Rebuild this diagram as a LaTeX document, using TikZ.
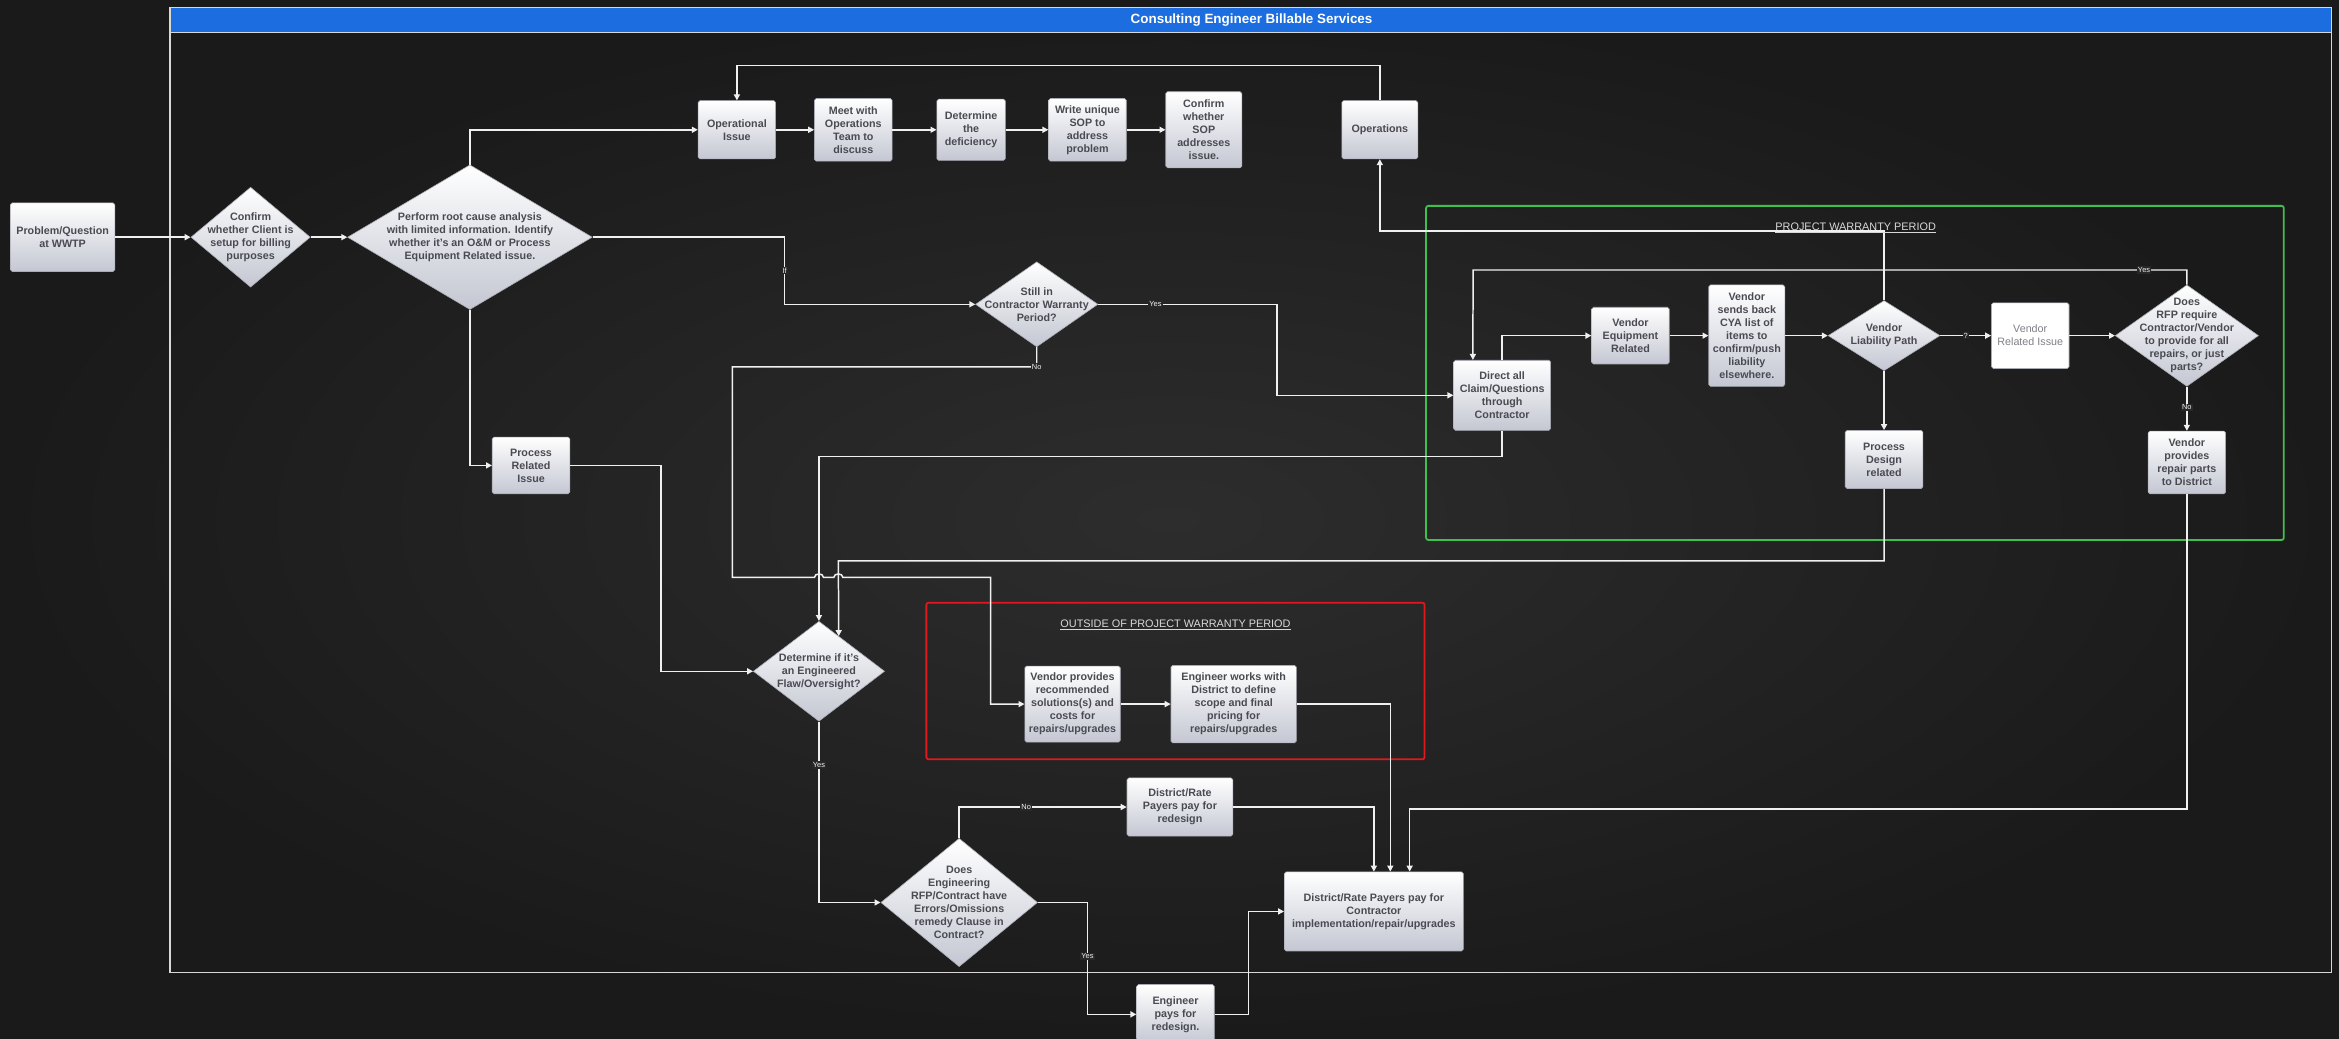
\documentclass[tikz,border=0pt]{standalone}
\usepackage{fontspec}
\setmainfont{Liberation Sans}
\usetikzlibrary{arrows.meta, positioning, calc, shapes.geometric}
\definecolor{bgcol}{HTML}{272727}
\definecolor{bgmid}{HTML}{2D2D2D}
\definecolor{bgdark}{HTML}{1A1A1A}
\definecolor{txtcol}{HTML}{4A4A52}
\definecolor{boxbot}{HTML}{C4C7D2}
\definecolor{boxline}{HTML}{A9ABB4}
\definecolor{wire}{HTML}{F0F0F0}
\definecolor{barblue}{HTML}{1C6EE0}
\definecolor{wgreen}{HTML}{3FBF4C}
\definecolor{wred}{HTML}{E0191E}

\begin{document}
\begin{tikzpicture}[
x=1pt, y=-1pt,
>={Triangle[length=4pt,width=4pt]},
box/.style={rectangle, rounded corners=1.2pt, draw=boxline, line width=0.4pt,
  top color=white, bottom color=boxbot, text=txtcol, align=center, inner sep=0.5pt,
  font=\bfseries\fontsize{7.2}{8.7}\selectfont},
plainbox/.style={box, top color=white, bottom color=white, text=txtcol!70!white,
  font=\fontsize{7.2}{8.7}\selectfont},
dia/.style={diamond, draw=boxline, line width=0.4pt, top color=white, bottom color=boxbot, inner sep=0pt},
dtext/.style={text=txtcol, align=center, inner sep=0pt, font=\bfseries\fontsize{7.2}{8.7}\selectfont},
conn/.style={draw=wire, line width=1pt, ->},
lbl/.style={fill=bgcol, text=wire, inner sep=0.7pt, font=\fontsize{5}{5}\selectfont},
grp/.style={text=wire!90!black, font=\fontsize{7.3}{8}\selectfont},
]
\useasboundingbox (0,0) rectangle (1568,696);
%% frame
\shade[inner color=bgmid, outer color=bgdark] (0,0) rectangle (1568,696);
\fill[barblue] (114,5) rectangle (1563,22);
\draw[wire!90!black, line width=1pt] (114,5) rectangle (1563,652);
\draw[wire!90!black, line width=0.6pt] (114,22) -- (1563,22);
\node[text=white, font=\bfseries\fontsize{9}{10}\selectfont] (title) at (839,13.5) {Consulting Engineer Billable Services};
\draw[wgreen, line width=1.2pt, rounded corners=1.5pt] (956,138) rectangle (1531,362);
\draw[wred, line width=1.2pt, rounded corners=1.5pt] (621,404) rectangle (955,509);

% nodes
\node[box, minimum width=70pt, minimum height=46pt] (prob) at (42,159) {Problem/Question\\at WWTP};
\node[dia, minimum width=80pt, minimum height=67pt,
  label={[dtext]center:{Confirm\\whether Client is\\setup for billing\\purposes}}] (confirm) at (168,159) {};
\node[dia, minimum width=164pt, minimum height=97pt,
  label={[dtext]center:{Perform root cause analysis\\with limited information. Identify\\whether it's an O\&M or Process\\Equipment Related issue.}}] (root) at (315,159) {};
\node[box, minimum width=52pt, minimum height=39pt] (opiss) at (494,87) {Operational\\Issue};
\node[box, minimum width=52pt, minimum height=42pt] (meet) at (572,87) {Meet with\\Operations\\Team to\\discuss};
\node[box, minimum width=46pt, minimum height=41pt] (deter) at (651,87) {Determine\\the\\deficiency};
\node[box, minimum width=52pt, minimum height=42pt] (sop) at (729,87) {Write unique\\SOP to\\address\\problem};
\node[box, minimum width=51pt, minimum height=51pt] (csop) at (807,87) {Confirm\\whether\\SOP\\addresses\\issue.};
\node[box, minimum width=51pt, minimum height=39pt] (ops) at (925,87) {Operations};
\node[dia, minimum width=82pt, minimum height=57pt,
  label={[dtext]center:{Still in\\Contractor Warranty\\Period?}}] (still) at (695,204) {};
\node[box, minimum width=52pt, minimum height=38pt] (prel) at (356,312) {Process\\Related\\Issue};
\node[dia, minimum width=88pt, minimum height=67pt,
  label={[dtext]center:{Determine if it's\\an Engineered\\Flaw/Oversight?}}] (flaw) at (549,450) {};
\node[box, minimum width=64pt, minimum height=51pt] (vprov) at (719,472) {Vendor provides\\recommended\\solutions(s) and\\costs for\\repairs/upgrades};
\node[box, minimum width=84pt, minimum height=52pt] (engw) at (827,472) {Engineer works with\\District to define\\scope and final\\pricing for\\repairs/upgrades};
\node[box, minimum width=71pt, minimum height=39pt] (redes) at (791,541) {District/Rate\\Payers pay for\\redesign};
\node[dia, minimum width=105pt, minimum height=86pt,
  label={[dtext]center:{Does\\Engineering\\RFP/Contract have\\Errors/Omissions\\remedy Clause in\\Contract?}}] (doeng) at (643,605) {};
\node[box, minimum width=52pt, minimum height=40pt] (engpay) at (788,680) {Engineer\\pays for\\redesign.};
\node[box, minimum width=120pt, minimum height=53pt] (dpay) at (921,611) {District/Rate Payers pay for\\Contractor\\implementation/repair/upgrades};
\node[box, minimum width=65pt, minimum height=47pt] (direct) at (1007,265) {Direct all\\Claim/Questions\\through\\Contractor};
\node[box, minimum width=52pt, minimum height=38pt] (vequip) at (1093,225) {Vendor\\Equipment\\Related};
\node[box, minimum width=51pt, minimum height=68pt] (cya) at (1171,225) {Vendor\\sends back\\CYA list of\\items to\\confirm/push\\liability\\elsewhere.};
\node[dia, minimum width=75pt, minimum height=47pt,
  label={[dtext]center:{Vendor\\Liability Path}}] (vliab) at (1263,225) {};
\node[plainbox, minimum width=52pt, minimum height=44pt] (vrel) at (1361,225) {Vendor\\Related Issue};
\node[dia, minimum width=96pt, minimum height=68pt,
  label={[dtext]center:{Does\\RFP require\\Contractor/Vendor\\to provide for all\\repairs, or just\\parts?}}] (rfp) at (1466,225) {};
\node[box, minimum width=52pt, minimum height=39pt] (pdes) at (1263,308) {Process\\Design\\related};
\node[box, minimum width=52pt, minimum height=42pt] (vparts) at (1466,310) {Vendor\\provides\\repair parts\\to District};

% arrows
\draw[conn] (prob.east) -- (confirm.west);
\draw[conn] (confirm.east) -- (root.west);
\draw[conn] (root.north) |- (opiss.west);
\draw[conn] (opiss.east) -- (meet.west);
\draw[conn] (meet.east) -- (deter.west);
\draw[conn] (deter.east) -- (sop.west);
\draw[conn] (sop.east) -- (csop.west);
\draw[conn] (ops.north) -- ++(0,-23.5) -| (opiss.north);
\draw[conn] (vliab.north) -- (1263,155) -| (ops.south);
\draw[conn] (root.east) -| node[lbl, pos=0.75] (lif) {If} (526,204) -- (still.west);
\draw[conn] (still.east) -- node[lbl, pos=0.32] (lyes1) {Yes} (856,204) |- (direct.west);
\draw[conn] (still.south) |- node[lbl, pos=0.5] (lno1) {No} (491,246) -- (491,387)
  -- (546,387) .. controls (546,384) and (552,384) .. (552,387)
  -- (559,387) .. controls (559,384) and (565,384) .. (565,387)
  -- (664,387) |- (vprov.west);
\draw[conn] (root.south) |- (prel.west);
\draw[conn] (prel.east) -- (443,312) |- (flaw.west);
\draw[conn] (direct.south) |- (549,306) -- (flaw.north);
\draw[conn] (pdes.south) |- (562,376) -- ($(flaw.north)!0.3!(flaw.east)$);
\draw[conn] (flaw.south) |- node[lbl, pos=0.12] (lyes2) {Yes} (doeng.west);
\draw[conn] (doeng.north) |- node[lbl, pos=0.7] (lno2) {No} (redes.west);
\draw[conn] (doeng.east) -- (729,605) |- node[lbl, pos=0.24] (lyes3) {Yes} (engpay.west);
\draw[conn] (engpay.east) -- (837,680) |- (dpay.west);
\draw[conn] (vprov.east) -- (engw.west);
\draw[conn] (redes.east) -| (dpay.north);
\draw[conn] (engw.east) -| ($(dpay.north)+(11,0)$);
\draw[conn] (vparts.south) -- ++(0,211) -| ($(dpay.north)+(24,0)$);
\draw[conn] (direct.north) |- (vequip.west);
\draw[conn] (vequip.east) -- (cya.west);
\draw[conn] (cya.east) -- (vliab.west);
\draw[conn] (vliab.east) -- node[lbl] (lq) {?} (vrel.west);
\draw[conn] (vrel.east) -- (rfp.west);
\draw[conn] (rfp.north) |- node[lbl, pos=0.53] (lyes4) {Yes} (987.5,181) -- ($(direct.north west)!0.2!(direct.north east)$);
\draw[conn] (rfp.south) -- node[lbl, pos=0.47] (lno3) {No} (vparts.north);
\draw[conn] (vliab.south) -- (pdes.north);

% group labels
\node[grp] (pwp) at (1244,153) {\underline{PROJECT WARRANTY PERIOD}};
\node[grp] (owp) at (788,419) {\underline{OUTSIDE OF PROJECT WARRANTY PERIOD}};
\end{tikzpicture}
\end{document}
